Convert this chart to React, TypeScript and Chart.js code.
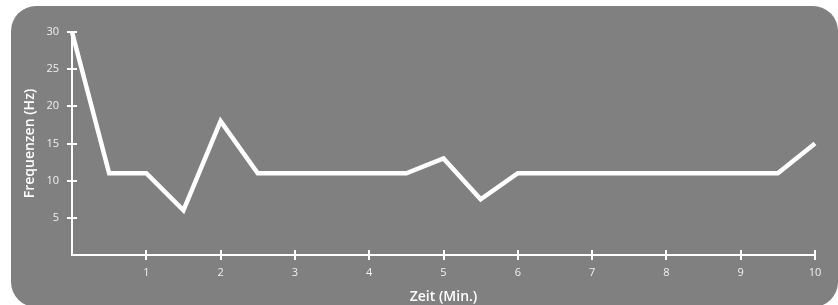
import React, { useEffect, useRef } from "react";
import { Chart, registerables } from "chart.js";

Chart.register(...registerables);

const minutes = [0, 0.5, 1, 1.5, 2, 2.5, 3, 3.5, 4, 4.5, 5, 5.5, 6, 6.5, 7, 7.5, 8, 8.5, 9, 9.5, 10];
const frequencies = [30, 11, 11, 6, 18, 11, 11, 11, 11, 11, 13, 7.5, 11, 11, 11, 11, 11, 11, 11, 11, 15];
const xTickValues = [1, 2, 3, 4, 5, 6, 7, 8, 9, 10];
const yTickValues = [5, 10, 15, 20, 25, 30];
const xTitle = "Zeit (Min.)";
const yTitle = "Frequenzen (Hz)";

const FONT = "'Open Sans', 'Noto Sans', sans-serif";

const crossTicks = {
  id: "crossTicks",
  afterDraw(chart: any) {
    const { ctx, scales } = chart;
    const xs = scales.x;
    const ys = scales.y;
    ctx.save();
    ctx.strokeStyle = "#ffffff";
    ctx.lineWidth = 2;
    ctx.beginPath();
    xTickValues.forEach((v) => {
      const px = Math.round(xs.getPixelForValue(v));
      ctx.moveTo(px, ys.bottom - 5);
      ctx.lineTo(px, ys.bottom + 5);
    });
    yTickValues.forEach((v) => {
      const py = Math.round(ys.getPixelForValue(v));
      ctx.moveTo(xs.left - 5, py);
      ctx.lineTo(xs.left + 5, py);
    });
    ctx.stroke();
    ctx.restore();
  },
};

export default function App() {
  const ref = useRef<HTMLCanvasElement | null>(null);
  useEffect(() => {
    if (!ref.current) return;
    const chart = new Chart(ref.current, {
      type: "line",
      data: {
        datasets: [
          {
            data: minutes.map((m, i) => ({ x: m, y: frequencies[i] })),
            borderColor: "#ffffff",
            borderWidth: 4.5,
            pointRadius: 0,
            tension: 0,
            borderJoinStyle: "miter",
            clip: false as any,
          },
        ],
      },
      options: {
        animation: false,
        responsive: false,
        maintainAspectRatio: false,
        layout: { padding: { left: 0, right: 23, top: 32, bottom: 0 } },
        plugins: { legend: { display: false }, tooltip: { enabled: false } },
        scales: {
          x: {
            type: "linear",
            min: 0,
            max: 10,
            afterFit: (s: any) => {
              s.height = 50;
            },
            afterBuildTicks: (s: any) => {
              s.ticks = xTickValues.map((v) => ({ value: v }));
            },
            grid: { display: false, drawTicks: false },
            border: { display: true, color: "#ffffff", width: 2 },
            ticks: {
              color: "rgba(255,255,255,0.88)",
              font: { family: FONT, size: 11 },
              padding: 11,
              maxRotation: 0,
              callback: (v: any) => String(v),
            },
            title: {
              display: true,
              text: xTitle,
              color: "#ffffff",
              font: { family: FONT, size: 14, weight: "600" as any },
              padding: { top: 3.5, bottom: 0 },
            },
          },
          y: {
            type: "linear",
            min: 0,
            max: 30,
            afterFit: (s: any) => {
              s.width = 72;
            },
            afterBuildTicks: (s: any) => {
              s.ticks = yTickValues.map((v) => ({ value: v }));
            },
            grid: { display: false, drawTicks: false },
            border: { display: true, color: "#ffffff", width: 2 },
            ticks: {
              color: "rgba(255,255,255,0.88)",
              font: { family: FONT, size: 11 },
              padding: 13,
              callback: (v: any) => String(v),
            },
            title: {
              display: true,
              text: yTitle,
              color: "#ffffff",
              font: { family: FONT, size: 14, weight: "600" as any },
              padding: { top: 21.5, bottom: 0 },
            },
          },
        },
      },
      plugins: [crossTicks],
    });
    return () => chart.destroy();
  }, []);

  return (
    <div style={{ position: "absolute", left: 0, top: 0, width: 838, height: 305, overflow: "hidden", background: "#ffffff" }}>
      <div
        style={{
          position: "absolute",
          left: 11,
          top: 6,
          width: 827,
          height: 301,
          borderRadius: 25,
          background: "#808080",
        }}
      />
      <canvas ref={ref} width={838} height={305} style={{ position: "absolute", left: 0, top: 0, width: 838, height: 305 }} />
    </div>
  );
}
